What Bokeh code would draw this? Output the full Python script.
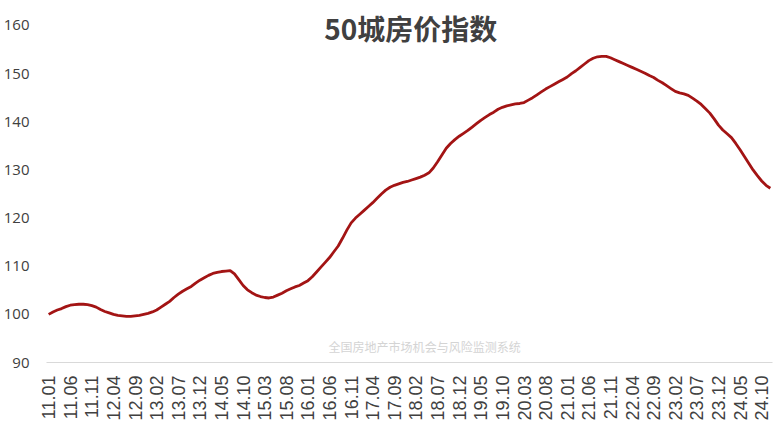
import math
from bokeh.plotting import figure
from bokeh.models import FixedTicker, Label, Range1d
from bokeh.embed import file_html
from bokeh.resources import INLINE

# Monthly 50-city house price index, 2011.01 - 2024.12
values_2011 = [100.0, 100.5, 100.9, 101.2, 101.6, 101.9, 102.0, 102.1, 102.1, 102.0, 101.8, 101.5]
values_2012 = [101.0, 100.6, 100.3, 100.0, 99.8, 99.7, 99.6, 99.6, 99.7, 99.8, 100.0, 100.2]
values_2013 = [100.5, 100.9, 101.5, 102.1, 102.7, 103.5, 104.2, 104.8, 105.3, 105.8, 106.5, 107.1]
values_2014 = [107.6, 108.1, 108.5, 108.7, 108.9, 109.0, 109.1, 108.4, 107.2, 106.0, 105.1, 104.5]
values_2015 = [104.0, 103.7, 103.5, 103.4, 103.6, 104.0, 104.4, 104.9, 105.3, 105.7, 106.0, 106.5]
values_2016 = [107.0, 107.8, 108.8, 109.8, 110.8, 111.8, 113.0, 114.2, 115.8, 117.5, 119.0, 120.0]
values_2017 = [120.8, 121.6, 122.4, 123.2, 124.1, 125.0, 125.8, 126.4, 126.8, 127.1, 127.4, 127.6]
values_2018 = [127.9, 128.2, 128.5, 128.9, 129.4, 130.4, 131.7, 133.1, 134.5, 135.5, 136.3, 137.0]
values_2019 = [137.6, 138.2, 138.9, 139.6, 140.3, 140.9, 141.5, 142.0, 142.6, 143.0, 143.3, 143.5]
values_2020 = [143.7, 143.8, 144.0, 144.5, 145.0, 145.6, 146.2, 146.8, 147.3, 147.8, 148.3, 148.8]
values_2021 = [149.3, 150.0, 150.6, 151.3, 152.0, 152.7, 153.2, 153.5, 153.6, 153.6, 153.3, 152.9]
values_2022 = [152.5, 152.1, 151.7, 151.3, 150.9, 150.5, 150.1, 149.6, 149.2, 148.6, 148.1, 147.5]
values_2023 = [146.9, 146.3, 146.0, 145.8, 145.5, 144.9, 144.3, 143.6, 142.7, 141.8, 140.6, 139.3]
values_2024 = [138.3, 137.5, 136.7, 135.5, 134.2, 132.8, 131.4, 130.0, 128.8, 127.7, 126.8, 126.2]

years = list(range(2011, 2025))
yearly = [values_2011, values_2012, values_2013, values_2014, values_2015, values_2016,
          values_2017, values_2018, values_2019, values_2020, values_2021, values_2022,
          values_2023, values_2024]

months = []   # labels like "11.01"
index = []
for y, vals in zip(years, yearly):
    for mi, v in enumerate(vals):
        months.append(f"{y % 100:02d}.{mi + 1:02d}")
        index.append(v)

x = list(range(len(index)))
tick_positions = x[::5]
tick_labels = {i: months[i] for i in tick_positions}
y_ticks = [90, 100, 110, 120, 130, 140, 150, 160]

title_text = "50城房价指数"
watermark_text = "全国房地产市场机会与风险监测系统"

p = figure(width=782, height=424, output_backend="svg", toolbar_location=None,
           x_range=Range1d(-0.5, len(index) - 0.5), y_range=Range1d(90, 163.53),
           min_border_left=45, min_border_right=10, min_border_top=8, min_border_bottom=62)
p.outline_line_color = None
p.xgrid.grid_line_color = None
p.ygrid.grid_line_color = None
p.background_fill_color = "white"
p.border_fill_color = "white"

p.line(x, index, line_color="#A31414", line_width=2.8)

# x axis
p.xaxis.ticker = FixedTicker(ticks=tick_positions)
p.xaxis.major_label_overrides = tick_labels
p.xaxis.major_label_orientation = math.pi / 2
p.xaxis.major_tick_line_color = None
p.xaxis.minor_tick_line_color = None
p.xaxis.axis_line_color = "#D9D9D9"
p.xaxis.axis_line_width = 1
p.xaxis.major_label_text_font = "Liberation Sans"
p.xaxis.major_label_text_font_size = "18px"
p.xaxis.major_label_text_color = "#404040"
p.xaxis.major_label_standoff = 7

# y axis
p.yaxis.ticker = FixedTicker(ticks=y_ticks)
p.yaxis.axis_line_color = None
p.yaxis.major_tick_line_color = None
p.yaxis.minor_tick_line_color = None
p.yaxis.major_label_text_font = "Open Sans"
p.yaxis.major_label_text_font_size = "15px"
p.yaxis.major_label_text_color = "#404040"
p.yaxis.major_label_standoff = 11

p.add_layout(Label(x=83.8, y=159.4, text=title_text, text_align="center",
                   text_baseline="middle", text_font="Noto Sans CJK SC",
                   text_font_style="bold", text_font_size="28px", text_color="#404040"))
p.add_layout(Label(x=87.0, y=93.3, text=watermark_text, text_align="center",
                   text_baseline="middle", text_font="Noto Sans CJK SC",
                   text_font_size="12px", text_color="#D4D4D4"))

open("out.html", "w").write(file_html(p, INLINE))
